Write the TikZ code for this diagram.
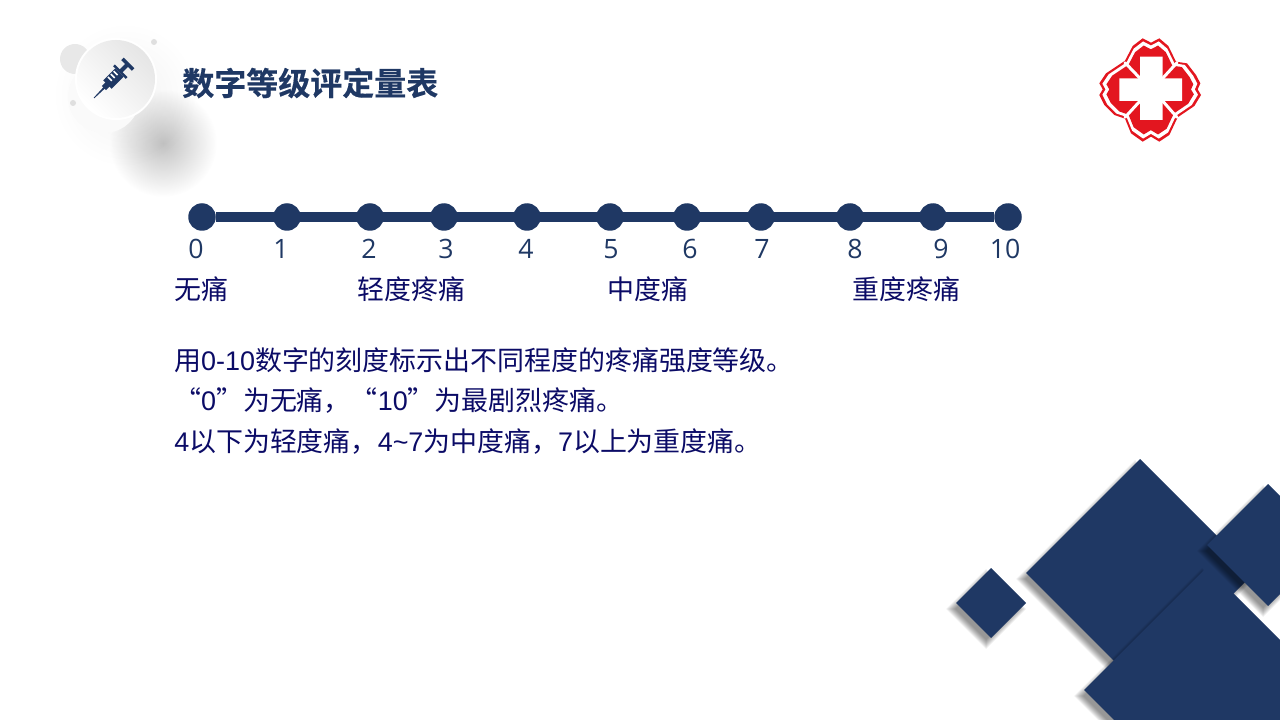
\documentclass[tikz,border=0pt]{standalone}
\usepackage{fontspec}
\setmainfont{Noto Sans CJK SC}
\newfontfamily\titlefont{Noto Sans CJK SC}[UprightFont=* Bold, FakeBold=0.4]
\newfontfamily\arialfont{Liberation Sans}
\newfontfamily\numfont{Open Sans}
\usetikzlibrary{fadings}
\definecolor{navy}{HTML}{1F3864}
\definecolor{textnavy}{HTML}{0B0B66}
\definecolor{logored}{HTML}{E3161F}
\tikzfading[name=blobfade, inner color=transparent!0, outer color=transparent!100]
\tikzset{
  dot/.style={circle, fill=navy, minimum size=27.5*0.75pt, inner sep=0, outer sep=0},
  num/.style={font=\numfont\fontsize{20}{24}\selectfont, text=navy, inner sep=0, anchor=center},
  grade/.style={font=\fontsize{20.2}{24}\selectfont, text=textnavy, inner sep=0, anchor=west},
  body/.style={font=\fontsize{20.2}{24}\selectfont, text=textnavy, inner sep=0, anchor=west},
  tile/.style={fill=navy},
  lobe/.style={line width=3*0.75pt, draw=white, line cap=round}
}
% diamond with its soft shadow: centre x, centre y, half diagonal
\newcommand{\tile}[3]{
  \foreach \k in {0,...,9}
    \fill[black, opacity=0.05] (#1-5,#2+6-#3+4-\k) -- (#1-5+#3-4+\k,#2+6) -- (#1-5,#2+6+#3-4+\k) -- (#1-5-#3+4-\k,#2+6) -- cycle;
  \fill[tile] (#1,#2-#3) -- (#1+#3,#2) -- (#1,#2+#3) -- (#1-#3,#2) -- cycle;
}
\newcommand{\crest}{(210,68) -- (235,55) -- (262,78) -- (285,125) -- (318,130) -- (345,165) -- (358,190) -- (350,208) -- (360,225) -- (340,258) -- (290,292) -- (265,345) -- (235,365) -- (210,350) -- (185,365) -- (150,340) -- (132,296) -- (100,285) -- (70,255) -- (55,225) -- (65,208) -- (55,190) -- (75,160) -- (132,122) -- (155,78) -- (185,55) -- cycle}

\begin{document}
\begin{tikzpicture}[x=0.75pt, y=-0.75pt]
  \useasboundingbox (0,0) rectangle (1280,720);

  % badge
  \fill[black, opacity=0.24, path fading=blobfade] (163,143) circle (54);
  \fill[black, opacity=0.05, path fading=blobfade] (125,95) circle (72);
  \fill[gray!18] (75,59) circle (15);
  \fill[gray!4] (104,97) circle (36);
  \fill[gray!25] (154,42) circle (3);
  \fill[gray!25] (73,103) circle (3);
  \fill[white] (116,79) circle (41);
  \shade[left color=gray!20, right color=white, shading angle=-45] (116,79) circle (39);
  \begin{scope}[shift={(94,98)}, rotate=45, navy]
    \fill (0,-0.4) -- (15,-1) -- (15,1) -- (0,0.4) -- cycle;
    \fill (14,-3) rectangle (20,3);
    \fill (19,-6) rectangle (36,6);
    \fill (36,-9) rectangle (38.5,9);
    \fill (38,-2) rectangle (47,2);
    \fill (46,-7.5) rectangle (49.5,7.5);
    \foreach \t in {24,28,32}
      \fill[white] (\t,-5) rectangle (\t+1.6,0.5);
  \end{scope}
  \node[font=\titlefont\fontsize{24}{28}\selectfont, text=navy, inner sep=0, anchor=west] (title) at (182,83) {数字等级评定量表};

  % logo
  \begin{scope}[shift={(1081,20)}, x=0.25pt, y=-0.25pt]
    \fill[logored] \crest;
    \begin{scope}[shift={(207,210)}, scale=0.94, shift={(-207,-210)}]
      \fill[white] \crest;
    \end{scope}
    \begin{scope}[shift={(207,210)}, scale=0.86, shift={(-207,-210)}]
      \fill[logored] \crest;
    \end{scope}
    \draw[lobe] (177,175) -- (132,128);
    \draw[lobe] (245,175) -- (288,128);
    \draw[lobe] (177,243) -- (132,292);
    \draw[lobe] (245,243) -- (288,292);
    \fill[white] (177,110) -- (245,110) -- (245,175) -- (303,175) -- (303,243) -- (245,243) -- (245,300) -- (177,300) -- (177,243) -- (115,243) -- (115,175) -- (177,175) -- cycle;
  \end{scope}

  % scale
  \foreach \i/\px/\lx in {0/202/196, 1/287/281, 2/370/369, 3/444/446, 4/527/526, 5/610/611, 6/687/690, 7/761/762, 8/850/855, 9/933/941, 10/1008/1005} {
    \node[dot] (p\i) at (\px,217) {};
    \node[num] (n\i) at (\lx,249) {\i};
  }
  \draw[navy, line width=7.5pt] (p0) -- (p10);

  \node[grade] (none) at (174,289) {无痛};
  \node[grade] (mild) at (357,289) {轻度疼痛};
  \node[grade] (mid) at (607,289) {中度痛};
  \node[grade] (severe) at (852,289) {重度疼痛};

  \node[body] (line1) at (174,360) {用{\arialfont 0-10}数字的刻度标示出不同程度的疼痛强度等级。};
  \node[body] (line2) at (174,401) {“{\arialfont 0}”为无痛，“{\arialfont 10}”为最剧烈疼痛。};
  \node[body] (line3) at (174,442) {{\arialfont 4}以下为轻度痛，{\arialfont 4\textasciitilde7}为中度痛，{\arialfont 7}以上为重度痛。};

  % tiles
  \tile{991}{603}{35}
  \tile{1140}{573}{114}
  \tile{1207}{690}{123}
  \tile{1268}{545}{61}
\end{tikzpicture}
\end{document}
